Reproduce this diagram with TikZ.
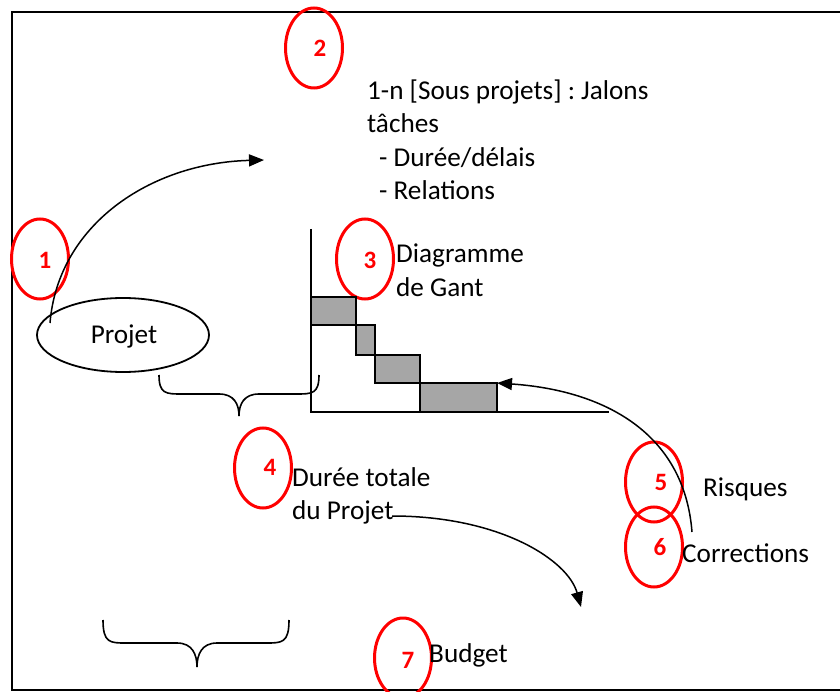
\documentclass[tikz,border=0pt]{standalone}
\usepackage{fontspec}
\setmainfont{Carlito}
\frenchspacing
\usetikzlibrary{shapes.geometric,arrows.meta}
\begin{document}
\begin{tikzpicture}[x=1pt,y=-1pt,
  redmark/.style={draw=red,line width=3pt,ellipse,minimum width=57pt,minimum height=80pt,inner sep=0pt},
  num/.style={text=red,font=\fontsize{25}{29}\selectfont\bfseries,inner sep=0pt},
  lbl/.style={font=\fontsize{27.2}{32}\selectfont,inner sep=0pt,anchor=base west},
  bar/.style={fill=black!35,draw=black,line width=1.6pt},
  axis/.style={line width=1.8pt},
  conn/.style={line width=1.5pt,-{Triangle[length=15pt,width=12pt]}},
  bracepath/.style={line width=1.6pt}]
\clip (0,0) rectangle (840,692);
\fill[white] (0,0) rectangle (840,692);
\draw[line width=2pt] (12,12) rectangle (860,690);

% red markers
\node[redmark] (m1) at (40,259) {};
\node[redmark] (m2) at (314,48) {};
\node[redmark] (m3) at (365,259) {};
\node[redmark] (m4) at (263,468) {};
\node[redmark] (m5) at (654,482) {};
\node[redmark] (m6) at (654,547) {};
\node[redmark] (m7) at (403,658) {};
\node[num] (n1) at (45,260) {1};
\node[num] (n2) at (320,48) {2};
\node[num] (n3) at (370,260) {3};
\node[num] (n4) at (270,467) {4};
\node[num] (n5) at (661,482) {5};
\node[num] (n6) at (660,547) {6};
\node[num] (n7) at (408,660) {7};

% Projet ellipse
\node[draw,ellipse,line width=1.8pt,minimum width=172pt,minimum height=74pt,inner sep=0pt] (projet) at (123,335) {};
\node[lbl,anchor=center] (projett) at (124,336) {Projet};

% texts
\node[lbl] (t1) at (367,100) {1-n [Sous projets] : Jalons};
\node[lbl] (t2) at (367,133) {tâches};
\node[lbl] (t3) at (379,167) {- Durée/délais};
\node[lbl] (t4) at (379,200) {- Relations};
\node[lbl] (g1) at (396,263) {Diagramme};
\node[lbl] (g2) at (396,297) {de Gant};
\node[lbl] (d1) at (292,486) {Durée totale};
\node[lbl] (d2) at (292,519) {du Projet};
\node[lbl] (risq) at (703,496) {Risques};
\node[lbl] (corr) at (682,562) {Corrections};
\node[lbl] (budg) at (429,662) {Budget};

% Gantt
\draw[bar] (311,297) rectangle (356,325);
\draw[bar] (356,325) rectangle (375,355);
\draw[bar] (375,355) rectangle (420,383);
\draw[bar] (420,383) rectangle (497,412);
\coordinate (ytop) at (311,229);
\coordinate (orig) at (311,412);
\coordinate (xend) at (609,412);
\draw[axis] (ytop) -- (orig) -- (xend);

% braces
\draw[bracepath] (159,375) .. controls (159,394) and (166,394) .. (182,394) -- (219,394) .. controls (234,394) and (239,404) .. (239,416);
\draw[bracepath] (319,375) .. controls (319,394) and (312,394) .. (296,394) -- (259,394) .. controls (244,394) and (239,404) .. (239,416);
\draw[bracepath] (103,620) .. controls (103,643) and (110,643) .. (126,643) -- (177,643) .. controls (192,643) and (197,654) .. (197,667);
\draw[bracepath] (289,620) .. controls (289,643) and (282,643) .. (266,643) -- (217,643) .. controls (202,643) and (197,654) .. (197,667);

% connectors
\coordinate (a1s) at (50,323);
\coordinate (a1e) at (264,160);
\draw[conn] (a1s) .. controls (58,225) and (150,163) .. (a1e);
\coordinate (a4s) at (392,516);
\coordinate (a4e) at (581,607);
\draw[conn] (a4s) .. controls (500,516) and (568,560) .. (a4e);
\coordinate (a5s) at (692,532);
\coordinate (a5e) at (497,383);
\draw[conn] (a5s) .. controls (684,430) and (600,390) .. (a5e);
\end{tikzpicture}
\end{document}
